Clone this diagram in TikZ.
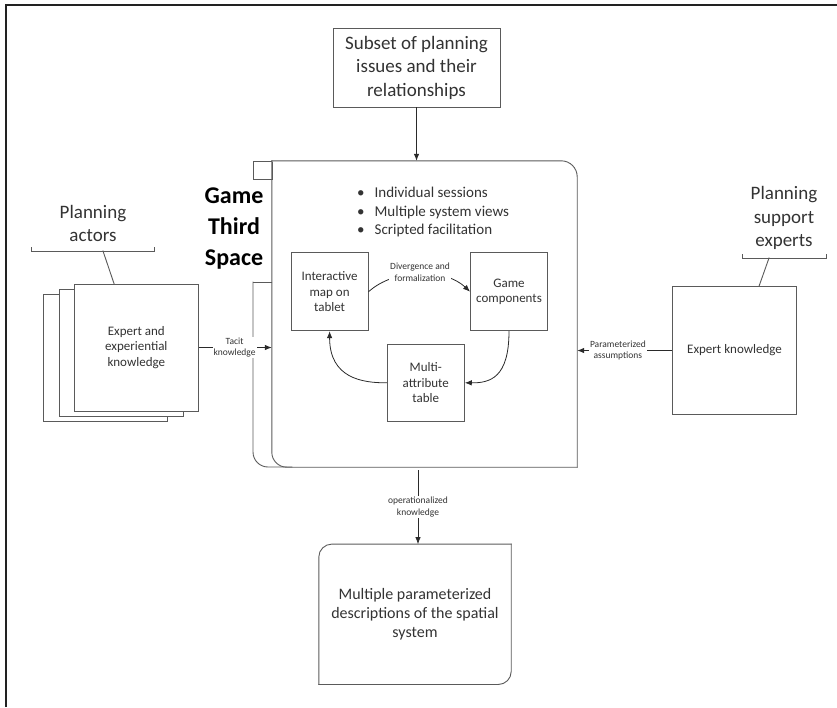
\documentclass[tikz,border=0pt]{standalone}
\usepackage{fontspec}
\setmainfont{Carlito}
\usetikzlibrary{arrows.meta}
\definecolor{txt}{HTML}{333333}
\definecolor{ln}{HTML}{5A5A5A}
\definecolor{arr}{HTML}{2A2A2A}
\definecolor{frm}{HTML}{222222}
\begin{document}
\begin{tikzpicture}[x=1pt,y=-1pt,
  box/.style={draw=ln,line width=0.9pt,fill=white,inner sep=0pt,align=center,text=txt},
  lbl/.style={font=\fontsize{9.5}{11.7}\selectfont,text=txt,fill=white,inner sep=1pt,align=center},
  conn/.style={draw=arr,line width=0.8pt},
  arrow/.style={conn,-{Latex[length=7pt,width=5.5pt]}},
  outline/.style={draw=ln,line width=0.9pt,line cap=rect},
  big/.style={font=\fontsize{19}{23.5}\selectfont,text=txt,align=center},
  mid/.style={font=\fontsize{13}{15.7}\selectfont},
  stackbox/.style={box,minimum width=124pt,minimum height=127pt}]
\useasboundingbox (0,0) rectangle (837,707);
\draw[frm,line width=2pt] (6,707) -- (6,5.2) -- (837,5.2);

% top box
\node[box,minimum width=167pt,minimum height=79pt,font=\fontsize{19}{23.5}\selectfont] (top) at (416.5,67.5) {Subset of planning\\issues and their\\relationships};

% main (game third space) box
\node[inner sep=0pt,minimum width=305pt,minimum height=306pt] (main) at (424.5,314) {};
\draw[outline] (253,161) rectangle (272,179);
\draw[outline] (272,282) -- (253,282);
\draw[outline,rounded corners=15pt] (253,282) -- (253,467) -- (292,467);
\draw[outline,fill=white,rounded corners=16pt] (main.north west) -- (main.north east) -- (main.south east);
\draw[outline,rounded corners=15pt] (main.south east) -- (main.south west) -- (main.north west);

\node[font=\bfseries\fontsize{24}{31}\selectfont,align=center,text=black] (gts) at (234,229) {Game\\Third\\Space};

\node[anchor=west,align=left,font=\fontsize{15}{18.5}\selectfont,text=txt,inner sep=0pt] (bul) at (357,212)
  {•\hspace{10pt}Individual sessions\\•\hspace{10pt}Multiple system views\\•\hspace{10pt}Scripted facilitation};

% inner boxes
\node[box,mid,minimum width=77pt,minimum height=78pt] (map) at (329.6,291.7) {Interactive\\map on\\tablet};
\node[box,mid,minimum width=77pt,minimum height=78pt] (comp) at (509,291.7) {Game\\components};
\node[box,mid,minimum width=77pt,minimum height=77.7pt] (tab) at (425.8,382.8) {Multi-\\attribute\\table};

\draw[arrow] (map.east) .. controls (395,268) and (445,268) .. (comp.west);
\node[lbl] (div) at (420,272) {Divergence and\\formalization};
\draw[arrow] (comp.south) .. controls (509,378) and (490,383) .. (tab.east);
\draw[arrow] (tab.west) .. controls (362,383) and (329.6,378) .. (map.south);

% top arrow
\draw[arrow] (top.south) -- (top.south |- main.north);

% left stack
\node[stackbox] (s3) at (105.8,358.3) {};
\node[stackbox] (s2) at (121.3,352.5) {};
\node[stackbox,mid] (s1) at (136.3,347.5) {Expert and\\experiential\\knowledge};
\node[big] (pa) at (93,223.3) {Planning\\actors};
\draw[outline] (31,247.5) -- (31,251) -- (154,251) -- (154,247.5);
\coordinate (pab) at (103,251);
\draw[outline] (pab) -- (s1.north -| 114,0);
\draw[arrow] (s1.east) -- node[lbl,pos=0.49] (tacit) {Tacit\\knowledge} (s1.east -| main.west);

% right
\node[box,mid,minimum width=124.4pt,minimum height=127.6pt] (ek) at (734.5,350.5) {Expert knowledge};
\node[big] (pse) at (784,218) {Planning\\support\\experts};
\draw[outline] (742,254.5) -- (742,258) -- (826.5,258) -- (826.5,254.5);
\coordinate (pseb) at (769,258);
\draw[outline] (pseb) -- (ek.north -| 759,0);
\draw[arrow] (ek.west) -- node[lbl,pos=0.57] (param) {Parameterized\\assumptions} (ek.west -| main.east);

% bottom
\node[inner sep=0pt,minimum width=192pt,minimum height=140pt,font=\fontsize{16}{19}\selectfont,text=txt,align=center] (out) at (415,614.3) {Multiple parameterized\\descriptions of the spatial\\system};
\draw[outline,rounded corners=13pt] (out.north east) -- (out.north west) -- (out.south west);
\draw[outline,rounded corners=13pt] (out.south west) -- (out.south east) -- (out.north east);
\coordinate (opstart) at (418,470);
\draw[arrow] (opstart) -- node[lbl,pos=0.5] (opk) {operationalized\\knowledge} (opstart |- out.north);
\end{tikzpicture}
\end{document}
